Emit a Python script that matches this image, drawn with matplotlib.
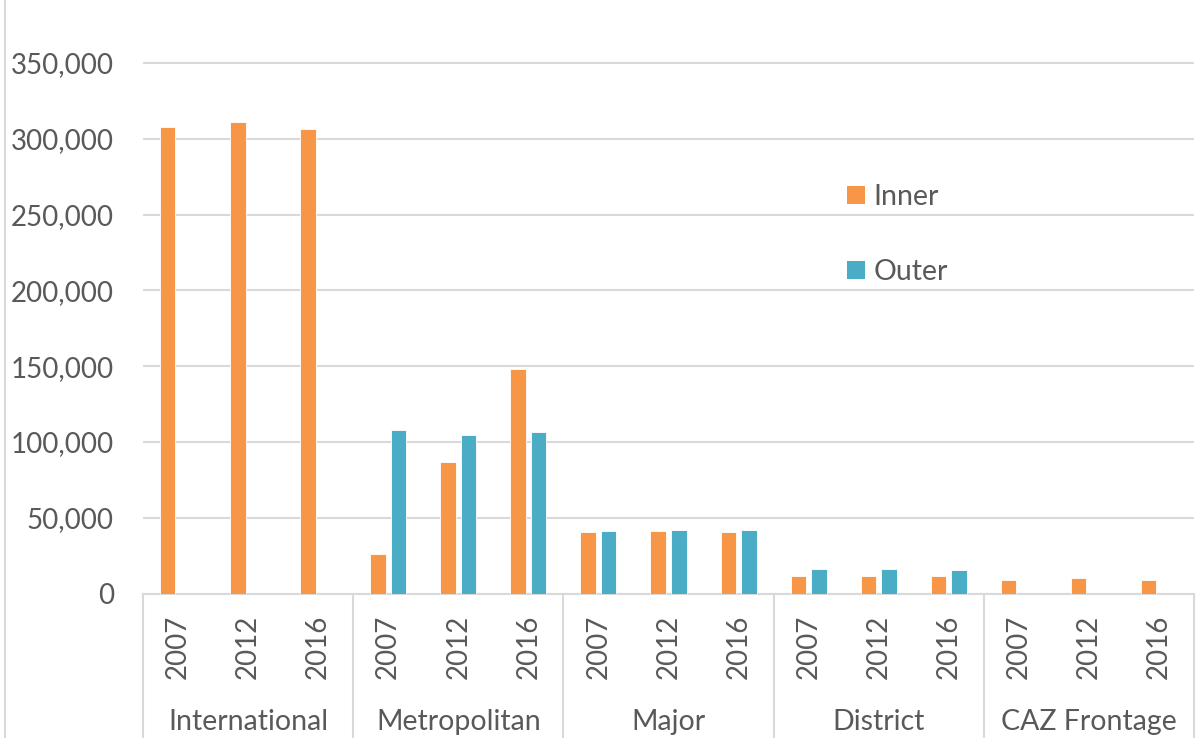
import matplotlib
matplotlib.use("Agg")
import matplotlib.pyplot as plt
import matplotlib.transforms as mtransforms
from matplotlib.lines import Line2D
from matplotlib.patches import Patch
import numpy as np

plt.rcParams['font.family'] = ['Lato', 'DejaVu Sans']

groups = ["International", "Metropolitan", "Major", "District", "CAZ Frontage"]
years = ["2007", "2012", "2016"]
inner = [308000, 310800, 306200,
         26300, 86800, 148400,
         40800, 41200, 40600,
         11300, 11500, 11500,
         9000, 10300, 8800]
outer = [0, 0, 0,
         107900, 104800, 106400,
         41400, 41900, 41900,
         16200, 16200, 15700,
         0, 0, 0]
yticks = [0, 50000, 100000, 150000, 200000, 250000, 300000, 350000]

C_IN = "#F79646"
C_OUT = "#4BACC6"
GRID = "#D9D9D9"
TXT = "#595959"

W, H = 1201, 738
fig = plt.figure(figsize=(W / 100, H / 100), dpi=100)
ax = fig.add_axes([143 / W, 1 - 593.5 / H, (1194 - 143) / W, 593.5 / H])

n = len(inner)
x = np.arange(n)
bw = 0.22
off = 0.147
inner_a = np.array(inner, dtype=float)
outer_a = np.array(outer, dtype=float)
mi = inner_a > 0
mo = outer_a > 0
ax.bar(x[mi] - off, inner_a[mi], width=bw, color=C_IN, edgecolor="white", linewidth=0.6, zorder=3)
ax.bar(x[mo] + off, outer_a[mo], width=bw, color=C_OUT, edgecolor="white", linewidth=0.6, zorder=3)

ax.set_xlim(-0.5, n - 0.5)
ax.set_ylim(0, 391500)
ax.set_yticks(yticks)
ax.set_yticklabels([f"{v:,}" for v in yticks])
ax.yaxis.grid(True, color=GRID, linewidth=1.5, zorder=0)
ax.set_axisbelow(True)
for s in ["top", "right", "left"]:
    ax.spines[s].set_visible(False)
ax.spines["bottom"].set_color(GRID)
ax.spines["bottom"].set_linewidth(1.5)
ax.tick_params(axis="y", length=0, pad=21, labelsize=20, labelcolor=TXT)
ax.set_xticks([])

trans = mtransforms.blended_transform_factory(ax.transData, ax.transAxes)
ng = len(years)
for i in range(n):
    ax.text(x[i], -0.0893, years[i % ng], rotation=90, ha="center", va="center",
            fontsize=20, color=TXT, transform=trans)
for g, name in enumerate(groups):
    cx = g * ng + (ng - 1) / 2
    ax.text(cx, -0.2165, name, ha="center", va="center", fontsize=20.5, color=TXT,
            transform=trans)
for b in range(len(groups) + 1):
    xb = b * ng - 0.5
    ax.add_line(Line2D([xb, xb], [0, -0.26], transform=trans, color=GRID,
                       linewidth=1.5, clip_on=False))

fig.add_artist(Line2D([5 / W, 5 / W], [0, 1], transform=fig.transFigure,
                      color=GRID, linewidth=1.5))

handles = [Patch(facecolor=C_IN, edgecolor="none"), Patch(facecolor=C_OUT, edgecolor="none")]
leg = fig.legend(handles, ["Inner", "Outer"], loc="upper left",
                 bbox_to_anchor=(847 / W, 1 - 184 / H), frameon=False,
                 fontsize=20.5, handlelength=0.63, handleheight=0.63,
                 handletextpad=0.3, labelspacing=1.72, borderpad=0, borderaxespad=0)
for t in leg.get_texts():
    t.set_color(TXT)

fig.savefig("out.png", dpi=100, facecolor="white")
